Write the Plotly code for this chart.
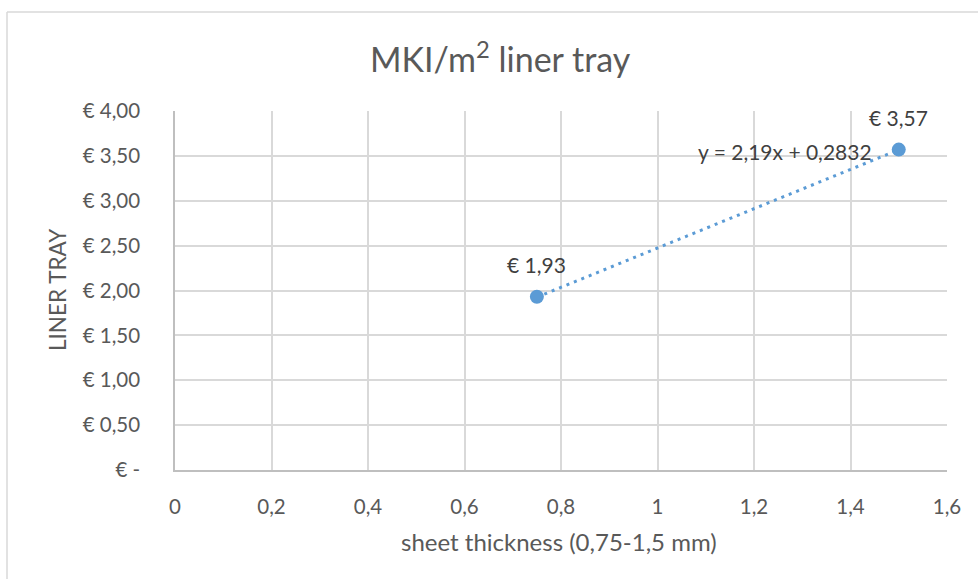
import plotly.graph_objects as go

# Data
thickness = [0.75, 1.5]
price = [1.93, 3.57]
point_labels = ["€ 1,93", "€ 3,57"]
trend_slope = 2.19
trend_intercept = 0.2832
trend_label = "y = 2,19x + 0,2832"

x_tick_vals = [0, 0.2, 0.4, 0.6, 0.8, 1.0, 1.2, 1.4, 1.6]
x_tick_text = ["0", "0,2", "0,4", "0,6", "0,8", "1", "1,2", "1,4", "1,6"]
y_tick_vals = [0, 0.5, 1.0, 1.5, 2.0, 2.5, 3.0, 3.5, 4.0]
y_tick_text = ["€ -", "€ 0,50", "€ 1,00", "€ 1,50", "€ 2,00", "€ 2,50", "€ 3,00", "€ 3,50", "€ 4,00"]

title_text = "MKI/m<sup>2</sup> liner tray"
x_title = "sheet thickness (0,75-1,5 mm)"
y_title = "LINER TRAY"

FONT = "Lato, Open Sans, sans-serif"
TEXT = "#595959"
DARK = "#404040"
BLUE = "#5b9bd5"

W, H = 978, 579
L, R, T, B = 175, 31, 111, 109
pw, ph = W - L - R, H - T - B

def px_x(px):
    return (px - L) / pw

def px_y(py):
    return (H - B - py) / ph

trend_x = [min(thickness), max(thickness)]
trend_y = [trend_slope * v + trend_intercept for v in trend_x]

fig = go.Figure()
fig.add_trace(go.Scatter(
    x=trend_x, y=trend_y, mode="lines",
    line=dict(color=BLUE, width=3, dash="3px,5px"),
    hoverinfo="skip", showlegend=False,
))
fig.add_trace(go.Scatter(
    x=thickness, y=price, mode="markers",
    marker=dict(color=BLUE, size=14),
    showlegend=False,
))

annotations = []
for xv, yv, lab in zip(thickness, price, point_labels):
    annotations.append(dict(
        x=xv, y=yv, xref="x", yref="y", text=lab, showarrow=False,
        xanchor="center", yanchor="middle", yshift=32,
        font=dict(family=FONT, size=21, color=DARK),
    ))
annotations.append(dict(
    x=max(thickness), y=trend_slope * max(thickness) + trend_intercept,
    xref="x", yref="y", text=trend_label, showarrow=False,
    xanchor="right", yanchor="middle", xshift=-25, yshift=-2,
    font=dict(family=FONT, size=21, color=DARK),
))
annotations.append(dict(
    x=px_x(559), y=px_y(541), xref="paper", yref="paper", text=x_title,
    xanchor="center", yanchor="middle",
    showarrow=False, font=dict(family=FONT, size=24, color=TEXT),
))
annotations.append(dict(
    x=px_x(57), y=px_y(290), xref="paper", yref="paper", text=y_title,
    xanchor="center", yanchor="middle",
    showarrow=False, textangle=-90, font=dict(family=FONT, size=22.5, color=TEXT),
))
annotations.append(dict(
    x=px_x(500), y=px_y(57), xref="paper", yref="paper", text=title_text,
    xanchor="center", yanchor="middle",
    showarrow=False, font=dict(family=FONT, size=34, color=TEXT),
))

shapes = [
    dict(type="line", xref="paper", yref="paper",
         x0=px_x(7), x1=px_x(W + 5), y0=px_y(12), y1=px_y(12),
         line=dict(color="#d9d9d9", width=1.5)),
    dict(type="line", xref="paper", yref="paper",
         x0=px_x(7), x1=px_x(7), y0=px_y(12), y1=px_y(H + 5),
         line=dict(color="#d9d9d9", width=1.5)),
]

fig.update_layout(
    width=W, height=H,
    margin=dict(l=L, r=R, t=T, b=B, pad=0),
    paper_bgcolor="white", plot_bgcolor="white",
    font=dict(family=FONT, size=21, color=TEXT),
    annotations=annotations, shapes=shapes,
    xaxis=dict(
        range=[0, 1.6], tickvals=x_tick_vals, ticktext=x_tick_text,
        showgrid=True, gridcolor="#d9d9d9", gridwidth=1.5,
        showline=True, linecolor="#bfbfbf", linewidth=1.5, mirror=False,
        zeroline=False, ticks="", ticklabelstandoff=18,
        tickfont=dict(family=FONT, size=20.5, color=TEXT),
    ),
    yaxis=dict(
        range=[0, 4], tickvals=y_tick_vals, ticktext=y_tick_text,
        showgrid=True, gridcolor="#d9d9d9", gridwidth=1.5,
        showline=True, linecolor="#bfbfbf", linewidth=1.5,
        zeroline=False, ticks="", ticklabelstandoff=29,
        tickfont=dict(family=FONT, size=20.5, color=TEXT),
    ),
)

fig.write_html("out.html", config={"displayModeBar": False},
               post_script="document.body.style.margin='0';")
